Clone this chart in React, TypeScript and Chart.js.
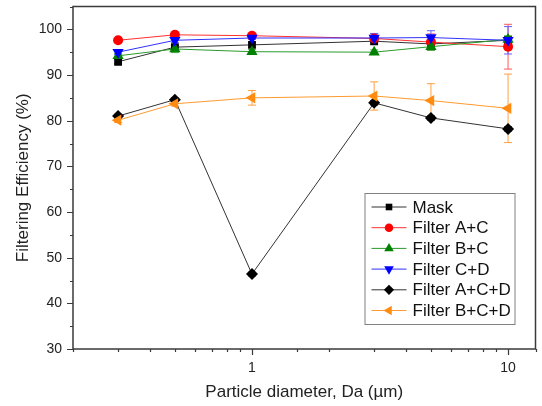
import React, { useEffect, useRef } from 'react';
import { Chart, registerables } from 'chart.js';
import { drawPoint } from 'chart.js/helpers';

Chart.register(...registerables);

const diameters = [0.3, 0.5, 1, 3, 5, 10];
const seriesNames = ['Mask', 'Filter A+C', 'Filter B+C', 'Filter C+D', 'Filter A+C+D', 'Filter B+C+D'];
const maskValues = [92.9, 96.1, 96.6, 97.4, 96.8, 97.6];
const filterACValues = [97.6, 98.8, 98.6, 98.0, 97.2, 96.2];
const filterBCValues = [94.2, 95.7, 95.1, 95.0, 96.2, 97.8];
const filterCDValues = [95.0, 97.6, 98.1, 98.1, 98.2, 97.6];
const filterACDValues = [81.0, 84.6, 46.4, 83.9, 80.6, 78.2];
const filterBCDValues = [80.1, 83.7, 85.0, 85.4, 84.4, 82.7];
const maskErrors = [0.5, 0.5, 0.5, 0.8, 0.8, 0.8];
const filterACErrors = [0.3, 0.3, 0.3, 1.0, 1.8, 4.9];
const filterBCErrors = [0.5, 0.8, 0.5, 0.5, 0.8, 0.8];
const filterCDErrors = [0.5, 0.5, 0.3, 1.0, 1.5, 3.0];
const filterACDErrors = [0.4, 0.4, 0.4, 0.5, 0.5, 0.5];
const filterBCDErrors = [0.5, 0.5, 1.6, 3.1, 3.7, 7.5];
const xLabelTicks = [1, 10];
const yMin = 30;
const yMax = 105;
const xMin = 0.2;
const xMax = 12.8;

const FONT = '"Liberation Sans", Arial, sans-serif';

const styles = [
  { color: '#000000', line: '#333333', err: '#555555', pointStyle: 'rect', radius: 5.5, rotation: 0 },
  { color: '#ff0000', line: '#ff3030', err: '#ff5a5a', pointStyle: 'circle', radius: 5, rotation: 0 },
  { color: '#008000', line: '#2a9a2a', err: '#4caf4c', pointStyle: 'triangle', radius: 6.5, rotation: 0 },
  { color: '#0000ff', line: '#3030ff', err: '#6060ff', pointStyle: 'triangle', radius: 6.5, rotation: 180 },
  { color: '#000000', line: '#333333', err: '#555555', pointStyle: 'rectRot', radius: 6, rotation: 0 },
  { color: '#ff8c10', line: '#ff9a30', err: '#ffa040', pointStyle: 'triangle', radius: 6.5, rotation: -90 },
];

const allValues = [maskValues, filterACValues, filterBCValues, filterCDValues, filterACDValues, filterBCDValues];
const allErrors = [maskErrors, filterACErrors, filterBCErrors, filterCDErrors, filterACDErrors, filterBCDErrors];

const errorBarPlugin = {
  id: 'errorBars',
  beforeDatasetsDraw(chart: any) {
    const ctx = chart.ctx;
    const xs = chart.scales.x;
    const ys = chart.scales.y;
    chart.data.datasets.forEach((ds: any) => {
      const errs = ds.errors;
      if (!errs) return;
      ctx.save();
      ctx.strokeStyle = ds.errorColor;
      ctx.lineWidth = 1;
      ds.data.forEach((p: any, j: number) => {
        const e = errs[j];
        if (!e) return;
        const x = xs.getPixelForValue(p.x);
        const y1 = ys.getPixelForValue(p.y + e);
        const y2 = ys.getPixelForValue(p.y - e);
        ctx.beginPath();
        ctx.moveTo(x, y1);
        ctx.lineTo(x, y2);
        ctx.moveTo(x - 4, y1);
        ctx.lineTo(x + 4, y1);
        ctx.moveTo(x - 4, y2);
        ctx.lineTo(x + 4, y2);
        ctx.stroke();
      });
      ctx.restore();
    });
  },
};

const framePlugin = {
  id: 'frameTicksLegend',
  afterDraw(chart: any) {
    const ctx = chart.ctx;
    const a = chart.chartArea;
    const xs = chart.scales.x;
    const ys = chart.scales.y;
    ctx.save();
    ctx.strokeStyle = '#3a3a3a';
    ctx.lineWidth = 1.5;
    ctx.strokeRect(a.left, a.top, a.right - a.left, a.bottom - a.top);
    ctx.lineWidth = 1.2;
    ctx.beginPath();
    ys.ticks.forEach((t: any) => {
      const y = Math.round(ys.getPixelForValue(t.value)) + 0.5;
      const major = t.value % 10 === 0;
      ctx.moveTo(a.left, y);
      ctx.lineTo(a.left - (major ? 6 : 3), y);
    });
    xs.ticks.forEach((t: any) => {
      if (t.value > xMax || t.value < xMin) return;
      const x = Math.round(xs.getPixelForValue(t.value)) + 0.5;
      const major = xLabelTicks.includes(t.value);
      ctx.moveTo(x, a.bottom);
      ctx.lineTo(x, a.bottom + (major ? 6 : 3));
    });
    ctx.stroke();

    // legend box
    const bw = 150;
    const bh = 131;
    const bx = a.right - 21 - bw;
    const by = a.bottom - 25 - bh;
    ctx.fillStyle = '#ffffff';
    ctx.fillRect(bx, by, bw, bh);
    ctx.strokeStyle = '#808080';
    ctx.lineWidth = 1;
    ctx.strokeRect(bx + 0.5, by + 0.5, bw, bh);
    ctx.font = '17px ' + FONT;
    ctx.textBaseline = 'middle';
    ctx.textAlign = 'left';
    chart.data.datasets.forEach((ds: any, i: number) => {
      const cy = by + 14 + i * 20.7;
      ctx.strokeStyle = ds.borderColor;
      ctx.lineWidth = 1;
      ctx.beginPath();
      ctx.moveTo(bx + 7, cy);
      ctx.lineTo(bx + 42, cy);
      ctx.stroke();
      ctx.fillStyle = ds.pointBackgroundColor;
      ctx.strokeStyle = ds.pointBorderColor;
      drawPoint(ctx, { pointStyle: ds.pointStyle, radius: ds.pointRadius * 0.85, rotation: ds.pointRotation, borderWidth: 0 }, bx + 24.5, cy);
      ctx.fillStyle = '#111111';
      ctx.fillText(ds.label, bx + 48, cy + 1);
    });
    ctx.restore();
  },
};

export default function App() {
  const ref = useRef<HTMLCanvasElement | null>(null);
  useEffect(() => {
    document.body.style.margin = '0';
    const canvas = ref.current;
    if (!canvas) return;
    const datasets = seriesNames.map((name, i) => ({
      label: name,
      data: diameters.map((d, j) => ({ x: d, y: allValues[i][j] })),
      errors: allErrors[i],
      errorColor: styles[i].err,
      borderColor: styles[i].line,
      borderWidth: 1,
      pointStyle: styles[i].pointStyle,
      pointRadius: styles[i].radius,
      pointRotation: styles[i].rotation,
      pointBackgroundColor: styles[i].color,
      pointBorderColor: styles[i].color,
      pointBorderWidth: 0,
      fill: false,
      tension: 0,
      order: 6 - i,
    }));
    const chart = new Chart(canvas, {
      type: 'line',
      data: { datasets } as any,
      options: {
        responsive: false,
        animation: false,
        layout: { padding: { top: 5, right: 5, left: 0, bottom: 0 } },
        plugins: { legend: { display: false }, tooltip: { enabled: false } },
        scales: {
          x: {
            type: 'logarithmic',
            min: xMin,
            max: xMax,
            grid: { display: false, drawTicks: false },
            border: { display: false },
            ticks: {
              autoSkip: false,
              maxRotation: 0,
              padding: 11,
              color: '#222222',
              font: { size: 14, family: FONT },
              callback: (v: any) => (xLabelTicks.includes(Number(v)) ? String(v) : ''),
            },
            title: {
              display: true,
              text: 'Particle diameter, Da (µm)',
              color: '#222222',
              font: { size: 17, family: FONT },
              padding: { top: 0, bottom: 3 },
            },
            afterFit: (s: any) => {
              s.height = 57;
              s.paddingLeft = 0;
              s.paddingRight = 0;
            },
          },
          y: {
            type: 'linear',
            min: yMin,
            max: yMax,
            grid: { display: false, drawTicks: false },
            border: { display: false },
            ticks: {
              stepSize: 5,
              padding: 11,
              color: '#222222',
              font: { size: 14, family: FONT },
              callback: (v: any) => (Number(v) % 10 === 0 && Number(v) <= 100 ? String(v) : ''),
            },
            title: {
              display: true,
              text: 'Filtering Efficiency (%)',
              color: '#222222',
              font: { size: 17, family: FONT },
              padding: { top: 13, bottom: 0 },
            },
            afterFit: (s: any) => {
              s.width = 73;
              s.paddingTop = 0;
              s.paddingBottom = 0;
            },
          },
        },
      } as any,
      plugins: [errorBarPlugin, framePlugin],
    });
    return () => chart.destroy();
  }, []);
  return (
    <div style={{ width: 542, height: 406 }}>
      <canvas ref={ref} width={542} height={406} style={{ width: 542, height: 406, display: 'block' }} />
    </div>
  );
}
